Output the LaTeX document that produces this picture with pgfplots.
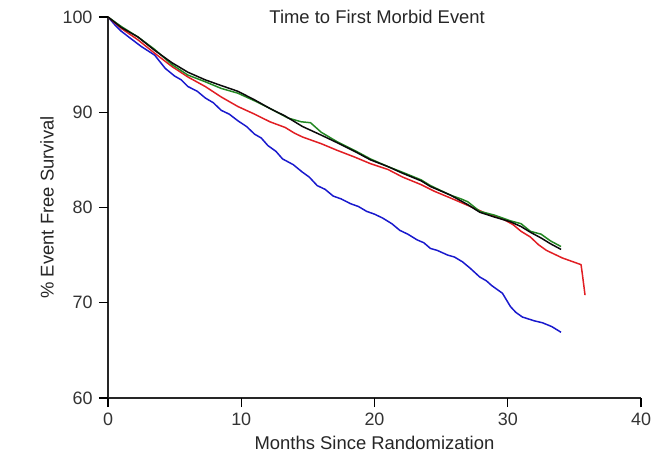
\documentclass[border=0pt]{standalone}
\usepackage{fontspec}
\setmainfont{Liberation Sans}
\usepackage{pgfplots}
\pgfplotsset{compat=1.18}

\definecolor{kmblue}{RGB}{25,25,205}
\definecolor{kmred}{RGB}{225,30,35}
\definecolor{kmgreen}{RGB}{35,135,35}
\definecolor{kmblack}{RGB}{10,10,10}

\begin{document}
\begin{tikzpicture}
\useasboundingbox (-108bp,-71bp) rectangle (551bp,398bp);
\begin{axis}[
  name=km,
  at={(0,0)}, anchor=south west,
  scale only axis,
  width=533bp, height=381bp,
  xmin=0, xmax=40, ymin=60, ymax=100,
  axis lines=left,
  axis line style={-, line width=1.1pt, black!85},
  xtick={0,10,20,30,40}, ytick={60,70,80,90,100},
  tick align=outside,
  major tick length=9bp,
  tick style={line width=1.2pt, draw=black},
  /pgf/number format/assume math mode=true,
  tick label style={font=\fontsize{18}{21}\selectfont, text=black!80},
  yticklabel style={xshift=-3bp},
  xticklabel style={yshift=-2bp},
  label style={font=\fontsize{18.5}{21}\selectfont, text=black!85},
  xlabel={Months Since Randomization},
  ylabel={\% Event Free Survival},
  xlabel style={yshift=-4bp},
  ylabel style={yshift=2bp},
  clip=false,
  every axis plot/.append style={line width=1.5pt, line join=round},
]
% Kaplan-Meier estimates, one per treatment arm
\addplot[kmblue] coordinates {
(0,100) (0.5,99.2) (1,98.5) (1.65,97.8) (2.5,96.9) (3.5,96.0) (4.3,94.6)
(5,93.8) (5.5,93.4) (6,92.7) (6.7,92.2) (7.3,91.5) (7.9,91.0) (8.5,90.2)
(9.1,89.8) (9.75,89.1) (10.4,88.5) (11,87.7) (11.5,87.3) (12,86.5)
(12.6,85.9) (13.1,85.1) (13.9,84.5) (14.6,83.7) (15.1,83.2) (15.7,82.3)
(16.3,81.9) (16.9,81.2) (17.5,80.9) (18.2,80.4) (18.8,80.1) (19.4,79.6)
(20.0,79.3) (20.6,78.9) (21.3,78.3) (21.9,77.6) (22.5,77.2) (23.2,76.6)
(23.7,76.3) (24.2,75.7) (24.7,75.5) (25.5,75.0) (26.0,74.8) (26.6,74.3)
(27.2,73.6) (27.9,72.7) (28.4,72.3) (28.8,71.8) (29.6,71.0) (29.9,70.3)
(30.2,69.6) (30.6,69.0) (31.1,68.5) (32.0,68.1) (32.6,67.9) (33.3,67.5)
(34.0,66.9)
};
\addplot[kmred] coordinates {
(0,100) (1,98.8) (2.25,97.6) (3.5,96.2) (4.8,94.8) (6,93.7) (7.3,92.7)
(8.5,91.6) (9.75,90.6) (11,89.8) (12.15,89.0) (13.3,88.4) (14.0,87.8)
(14.6,87.4) (16,86.7) (17.2,86.0) (18.5,85.3) (19.7,84.6) (21,84.0)
(22.1,83.2) (23.5,82.4) (24.5,81.7) (25.7,81.0) (27.2,80.1) (28.5,79.3)
(29.5,78.9) (30.4,78.2) (31.0,77.5) (31.7,76.9) (32.3,76.1) (32.9,75.5)
(34.1,74.7) (35.5,74.0) (35.6,73.0) (35.8,70.8)
};
\addplot[kmgreen] coordinates {
(0,100) (1,99.0) (2.25,97.9) (3.5,96.6) (4.8,95.0) (6,93.9) (7.3,93.2)
(8.5,92.5) (9.75,92.0) (11,91.2) (12.15,90.4) (13.5,89.4) (14.5,89.0)
(15.2,88.9) (16,87.9) (17.2,86.9) (18.5,86.0) (19.7,85.1) (21,84.3)
(22.1,83.7) (23.5,82.9) (24.2,82.3) (25.7,81.3) (26.5,80.9) (27,80.6)
(27.9,79.6) (29,79.2) (30.2,78.6) (31,78.3) (31.7,77.5) (32.5,77.2)
(33.2,76.5) (34.0,75.9)
};
\addplot[kmblack] coordinates {
(0,100) (1,98.9) (2.25,97.9) (3.5,96.5) (4.8,95.2) (6,94.2) (7.3,93.4)
(8.5,92.8) (9.75,92.2) (11,91.3) (12.15,90.4) (13.3,89.6) (14.6,88.5)
(16,87.6) (17.2,86.8) (18.5,85.9) (19.7,85.0) (21,84.3) (22.1,83.6)
(23.5,82.8) (24.2,82.2) (25.7,81.3) (27,80.3) (27.9,79.5) (29,79.0)
(30.2,78.5) (31,78.0) (31.7,77.4) (32.5,76.8) (33.2,76.2) (34.0,75.6)
};
\node[font=\fontsize{18.5}{21}\selectfont, text=black!85] at (axis cs:20.2,100) {Time to First Morbid Event};
\end{axis}
% tick marks along the bottom and left axis lines (axis box is 533bp x 381bp)
\foreach \i in {0,1,2,3,4} {
  \draw[line width=1.2pt, black] (\i*133.25bp,0) -- (\i*133.25bp,-9bp);
  \draw[line width=1.2pt, black] (0,\i*95.25bp) -- (-9bp,\i*95.25bp);
}
\end{tikzpicture}
\end{document}
